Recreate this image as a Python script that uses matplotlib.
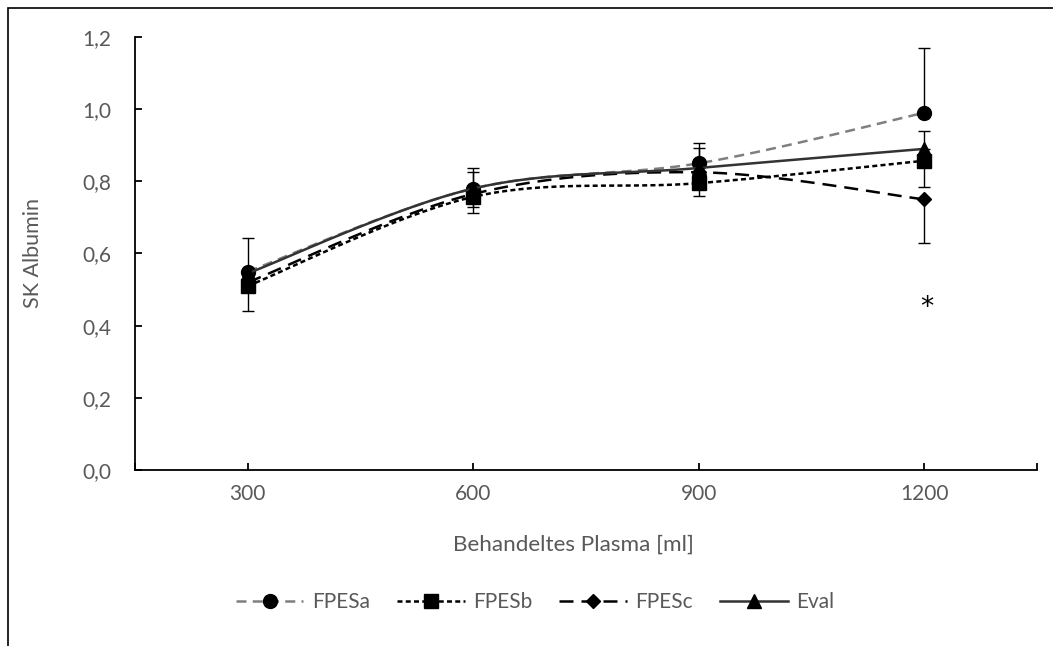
import numpy as np
import matplotlib
matplotlib.use("Agg")
import matplotlib.pyplot as plt
from matplotlib.lines import Line2D
from matplotlib.patches import Rectangle

categories = ["300", "600", "900", "1200"]
fpesa = [0.55, 0.78, 0.85, 0.99]
fpesb = [0.51, 0.757, 0.795, 0.857]
fpesc = [0.52, 0.765, 0.825, 0.75]
eval_ = [0.545, 0.78, 0.837, 0.89]
# one-sided error bars (lower, upper)
fpesa_err = ([0, 0, 0, 0], [0, 0.045, 0.042, 0.18])
fpesb_err = ([0.07, 0.045, 0.035, 0.072], [0, 0, 0, 0])
fpesc_err = ([0, 0.036, 0, 0.12], [0, 0, 0, 0])
eval_err = ([0, 0, 0, 0], [0.098, 0.058, 0.068, 0.05])
yticks = [0.0, 0.2, 0.4, 0.6, 0.8, 1.0, 1.2]

plt.rcParams['font.family'] = ['Lato', 'DejaVu Sans']
TXT = '#595959'

fig = plt.figure(figsize=(10.53, 6.46), dpi=100)
ax = fig.add_axes([135/1053, 1-470/646, (1037-135)/1053, (470-37)/646])

def smooth(y, n=40):
    # Catmull-Rom style smoothing (like Excel's smoothed line)
    y = np.asarray(y, float)
    x = np.arange(len(y), dtype=float)
    P = np.column_stack([x, y])
    out = []
    for i in range(len(P)-1):
        p0 = P[i-1] if i > 0 else P[i]
        p1, p2 = P[i], P[i+1]
        p3 = P[i+2] if i+2 < len(P) else P[i+1]
        c1 = p1 + (p2 - p0)/6
        c2 = p2 - (p3 - p1)/6
        t = np.linspace(0, 1, n)[:, None]
        seg = (1-t)**3*p1 + 3*(1-t)**2*t*c1 + 3*(1-t)*t**2*c2 + t**3*p2
        out.append(seg if i == 0 else seg[1:])
    s = np.vstack(out)
    return s[:, 0], s[:, 1]

LW = 1.8
xi = np.arange(len(categories))
series = [
    ("FPESa", fpesa, fpesa_err, dict(color='#7f7f7f', ls=(0, (4.0, 2.5))), dict(marker='o', ms=10)),
    ("FPESb", fpesb, fpesb_err, dict(color='black', ls=(0, (2.0, 1.3))), dict(marker='s', ms=9.5)),
    ("FPESc", fpesc, fpesc_err, dict(color='black', ls=(0, (5.6, 3.2))), dict(marker='D', ms=7)),
    ("Eval", eval_, eval_err, dict(color='#333333', ls='-'), dict(marker='^', ms=10)),
]
handles = []
for name, vals, err, lstyle, mstyle in series:
    ax.errorbar(xi, vals, yerr=[err[0], err[1]], fmt='none', ecolor='black',
                elinewidth=1.0, capsize=4.5, capthick=1.0, zorder=2)
for k, (name, vals, err, lstyle, mstyle) in enumerate(series):
    sx, sy = smooth(vals)
    ax.plot(sx, sy, lw=LW, zorder=3+k, **lstyle)
    ax.plot(xi, vals, ls='none', color='black', zorder=3+k, **mstyle)
    handles.append(Line2D([], [], lw=LW, markerfacecolor='black', markeredgecolor='black', **lstyle, **mstyle))

ax.text(3.01, 0.45, "*", ha='center', va='center', fontsize=19, color='black',
        family='DejaVu Sans')

ax.set_xlim(-0.5, 3.5)
ax.set_ylim(0, 1.2)
ax.set_xticks([-0.5, 0, 1, 2, 3, 3.5])
ax.set_xticklabels(["", *categories, ""])
ax.set_yticks(yticks)
ax.set_yticklabels([f"{v:.1f}".replace('.', ',') for v in yticks])
for s in ['top', 'right']:
    ax.spines[s].set_visible(False)
for s in ['left', 'bottom']:
    ax.spines[s].set_linewidth(1.3)
    ax.spines[s].set_color('black')
ax.tick_params(axis='both', direction='in', length=5, width=1.3, color='black',
               labelcolor=TXT, labelsize=15)
ax.tick_params(axis='y', pad=17)
ax.tick_params(axis='x', pad=10)
ax.set_xlabel("Behandeltes Plasma [ml]", fontsize=16.2, color=TXT, labelpad=22)
ax.xaxis.set_label_coords((573-135)/902, -(545-470)/433, transform=ax.transAxes)
ax.xaxis.label.set_va('center')
ax.set_ylabel("SK Albumin", fontsize=15.5, color=TXT)
ax.yaxis.set_label_coords(-(135-33)/902, 0.5, transform=ax.transAxes)
ax.yaxis.label.set_va('center')

fig.legend(handles, [s[0] for s in series], loc='center', bbox_to_anchor=(0.508, 1-602/646),
           ncol=4, frameon=False, fontsize=15, handlelength=3.25, handletextpad=0.4,
           columnspacing=1.3, labelcolor=TXT)

fig.patches.append(Rectangle((8/1053, -0.1), 1.2, 1.1 - 8/646, transform=fig.transFigure,
                             fill=False, edgecolor='black', lw=1.2, clip_on=False))

fig.savefig("out.png", dpi=100)
